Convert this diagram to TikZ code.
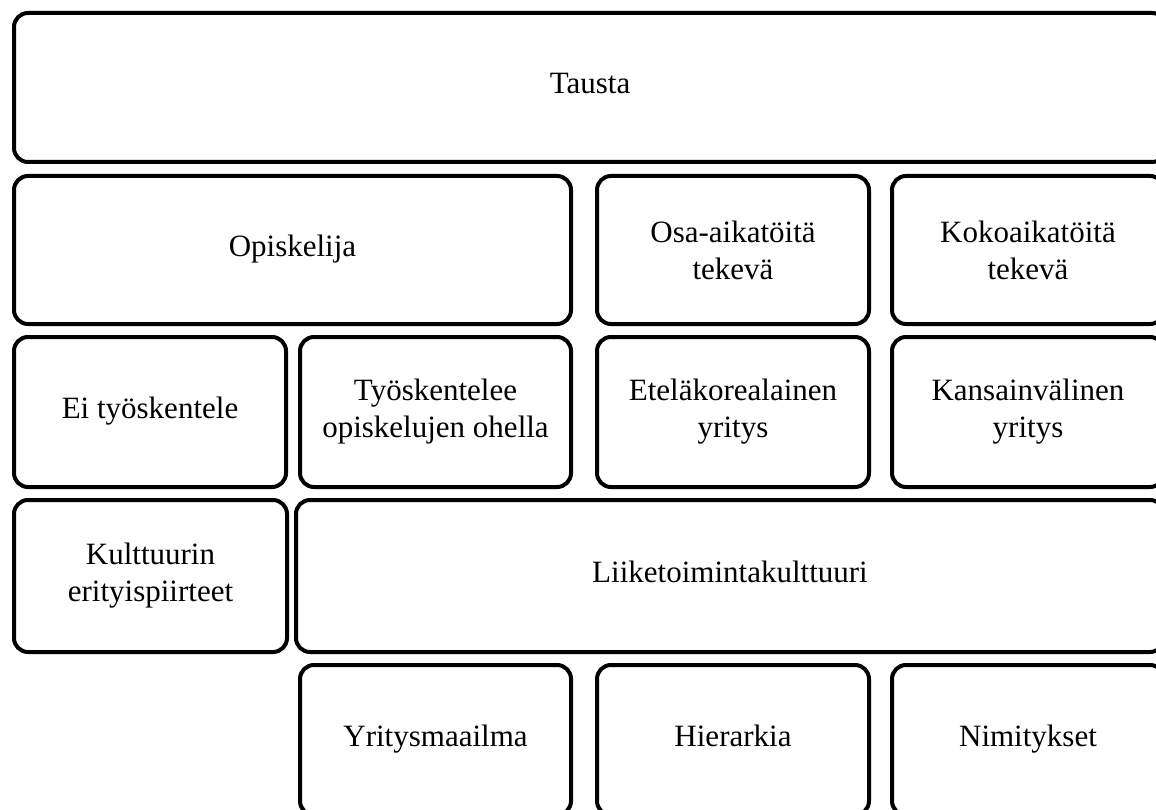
\documentclass[tikz,border=0pt]{standalone}
\usepackage{fontspec}
\setmainfont{Liberation Serif}
\begin{document}
\begin{tikzpicture}[x=1pt,y=-1pt,
  box/.style={draw=black, line width=4pt, rounded corners=14pt, align=center,
    inner sep=0pt, text=black, font=\fontsize{31}{37}\selectfont},
  one/.style={text height=20pt, text depth=7pt},
  wA/.style={minimum width=272pt}]
\useasboundingbox[fill=white] (0,0) rectangle (1156,810);
\clip (0,0) rectangle (1156,810);
% row 1
\node[box, one, minimum width=1152pt, minimum height=149pt] (tausta) at (590,87.5) {Tausta};
% row 2
\node[box, one, minimum width=557pt, minimum height=148pt] (opisk) at (292.5,250) {Opiskelija};
\node[box, wA, minimum height=148pt] (osa) at (733,250) {Osa-aikatöitä\\tekevä};
\node[box, wA, minimum height=148pt] (koko) at (1028,250) {Kokoaikatöitä\\tekevä};
% row 3
\node[box, one, wA, minimum height=150pt] (ei) at (150,412) {Ei työskentele};
\node[box, minimum width=271pt, minimum height=150pt] (tyo) at (435.5,412) {Työskentelee\\opiskelujen ohella};
\node[box, wA, minimum height=150pt] (etela) at (733,412) {Eteläkorealainen\\yritys};
\node[box, wA, minimum height=150pt] (kansa) at (1028,412) {Kansainvälinen\\yritys};
% row 4
\node[box, minimum width=273pt, minimum height=152pt] (kult) at (150.5,576) {Kulttuurin\\erityispiirteet};
\node[box, one, minimum width=868pt, minimum height=152pt] (liike) at (730,576) {Liiketoimintakulttuuri};
% row 5
\node[box, one, minimum width=271pt, minimum height=150pt] (yrit) at (435.5,740) {Yritysmaailma};
\node[box, one, wA, minimum height=150pt] (hier) at (733,740) {Hierarkia};
\node[box, one, wA, minimum height=150pt] (nimi) at (1028,740) {Nimitykset};
\end{tikzpicture}
\end{document}
